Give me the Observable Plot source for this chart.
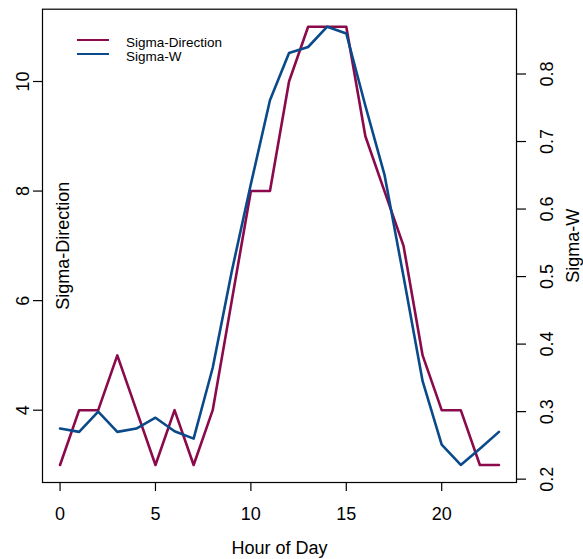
<!DOCTYPE html>
<html><head><meta charset="utf-8">
<script src="https://cdn.jsdelivr.net/npm/d3@7"></script>
<script src="https://cdn.jsdelivr.net/npm/@observablehq/plot@0.6"></script>
<style>
body{margin:0;background:#fff;font-family:"Liberation Sans",Arial,sans-serif;}
#wrap{position:relative;width:583px;height:559px;overflow:hidden;}
.legend{position:absolute;left:77px;top:33px;font-size:13.5px;}
.legend .row{display:flex;align-items:center;height:14.3px;}
.legend .sw{display:inline-block;width:32px;height:0;border-top:2.6px solid;margin-right:17px;}
.legend .lb{position:relative;top:2px;white-space:nowrap;}
</style>
</head><body>
<div id="wrap"></div>
<script>
const hours = [0,1,2,3,4,5,6,7,8,9,10,11,12,13,14,15,16,17,18,19,20,21,22,23];
const sigmaDirection = [3,4,4,5,4,3,4,3,4,6,8,8,10,11,11,11,9,8,7,5,4,4,3,3];
const sigmaW = [0.275,0.270,0.300,0.270,0.275,0.291,0.271,0.260,0.365,0.508,0.637,0.761,0.831,0.840,0.870,0.860,0.753,0.651,0.500,0.345,0.251,0.221,0.245,0.270];
const xTicks = [0,5,10,15,20];
const leftTicks = [4,6,8,10];
const rightTicks = [0.2,0.3,0.4,0.5,0.6,0.7,0.8];
const seriesNames = ["Sigma-Direction","Sigma-W"];
const seriesColors = ["#8a0a4b","#0a4a8a"];
const xTitle = "Hour of Day";

const pad = ([a,b]) => [a - 0.04*(b-a), b + 0.04*(b-a)];
const xDomain = pad(d3.extent(hours));
const yDomain = pad(d3.extent(sigmaDirection));
const wToY = d3.scaleLinear().domain(d3.extent(sigmaW)).range(d3.extent(sigmaDirection));

const rows = hours.map((h,i) => ({hour:h, dir:sigmaDirection[i], w:sigmaW[i]}));

const chart = Plot.plot({
  width:583, height:559,
  marginLeft:42, marginRight:67, marginTop:8.7, marginBottom:77,
  x:{domain:xDomain},
  y:{domain:yDomain},
  style:{fontFamily:"'Liberation Sans', Arial, sans-serif", fontSize:"18px", color:"black", background:"white", overflow:"hidden"},
  marks:[
    Plot.line(rows, {x:"hour", y:"dir", stroke:seriesColors[0], strokeWidth:2.6}),
    Plot.line(rows, {x:"hour", y:d => wToY(d.w), stroke:seriesColors[1], strokeWidth:2.6}),
    Plot.frame({stroke:"black", strokeWidth:1.2}),
    Plot.axisX(xTicks, {anchor:"bottom", tickSize:9, tickPadding:16, fontSize:18, label:null, strokeWidth:1.2, tickFormat:d => String(d)}),
    Plot.axisY(leftTicks, {anchor:"left", tickSize:9, tickPadding:5, tickRotate:-90, lineAnchor:"bottom", textAnchor:"middle", fontSize:18, label:null, strokeWidth:1.2, tickFormat:d => String(d)}),
    Plot.axisY(rightTicks.map(t => wToY(t)), {anchor:"right", tickSize:9, tickPadding:27, tickRotate:-90, lineAnchor:"bottom", textAnchor:"middle", fontSize:18, label:null, strokeWidth:1.2,
      tickFormat: d => wToY.invert(d).toFixed(1)}),
    Plot.text([xTitle], {text:d => d, frameAnchor:"bottom", lineAnchor:"bottom", dy:71, fontSize:18}),
    Plot.text([seriesNames[0]], {text:d => d, frameAnchor:"left", rotate:-90, lineAnchor:"bottom", textAnchor:"middle", dx:26, fontSize:18}),
    Plot.text([seriesNames[1]], {text:d => d, frameAnchor:"right", rotate:-90, lineAnchor:"bottom", textAnchor:"middle", dx:62, fontSize:18})
  ]
});
const wrap = document.getElementById("wrap");
wrap.appendChild(chart);
const legend = document.createElement("div");
legend.className = "legend";
seriesNames.forEach((n,i) => {
  const r = document.createElement("div"); r.className = "row";
  const s = document.createElement("span"); s.className = "sw"; s.style.borderTopColor = seriesColors[i];
  const l = document.createElement("span"); l.className = "lb"; l.textContent = n;
  r.appendChild(s); r.appendChild(l); legend.appendChild(r);
});
wrap.appendChild(legend);
</script>
</body></html>
